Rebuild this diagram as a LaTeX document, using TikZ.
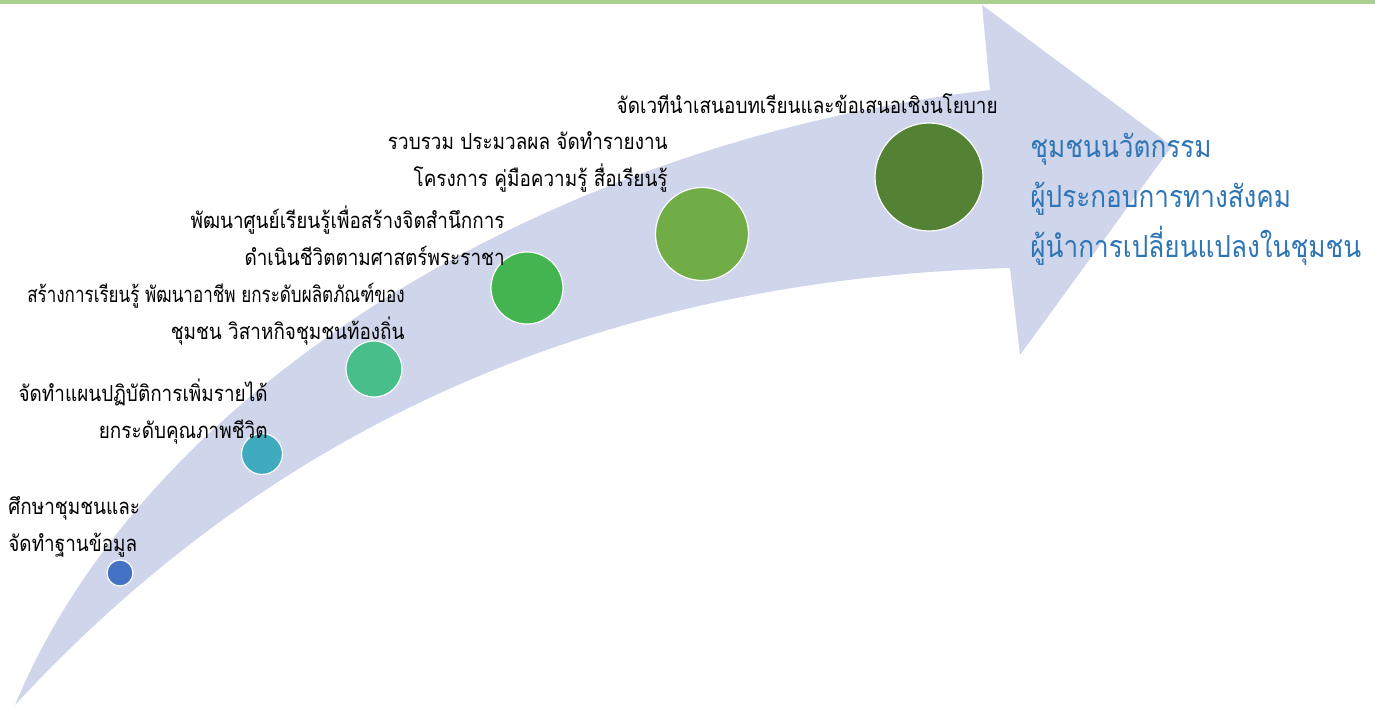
\documentclass[tikz,border=0pt]{standalone}
\usepackage{fontspec}
\usepackage{xcolor}
\newfontfamily\thaifont[Script=Thai, FakeStretch=0.86]{Loma}
\definecolor{bandBlue}{RGB}{207,213,234}
\definecolor{topGreen}{RGB}{169,208,142}
\definecolor{stepOne}{RGB}{68,114,196}
\definecolor{stepTwo}{RGB}{64,170,190}
\definecolor{stepThree}{RGB}{72,190,138}
\definecolor{stepFour}{RGB}{68,180,80}
\definecolor{stepFive}{RGB}{112,173,71}
\definecolor{stepSix}{RGB}{84,130,53}
\definecolor{goalBlue}{RGB}{46,117,182}
\tikzset{
  dot/.style={circle, draw=white, line width=0.6pt, inner sep=0pt},
  steptext/.style={font=\thaifont\fontsize{11}{18.5}\selectfont, inner sep=0pt},
  goaltext/.style={font=\thaifont\fontsize{15.2}{25}\selectfont, text=goalBlue, inner sep=0pt},
}

\begin{document}
\begin{tikzpicture}[x=0.5pt, y=-0.5pt]
	\useasboundingbox (0,0) rectangle (1375,710);
	\fill[topGreen] (0,0) rectangle (1375,4);
	% curved arrow
	\fill[bandBlue] (15,705) .. controls (150,380) and (560,140) .. (990,90)
		-- (982,5) -- (1172,146) -- (1020,355) -- (1010,268)
		.. controls (580,280) and (260,440) .. (15,705) -- cycle;
	% steps
	\node[dot, fill=stepOne, minimum size=13pt] (s1) at (120,573) {};
	\node[dot, fill=stepTwo, minimum size=20.5pt] (s2) at (262,454) {};
	\node[dot, fill=stepThree, minimum size=28pt] (s3) at (374,369) {};
	\node[dot, fill=stepFour, minimum size=36pt] (s4) at (527,288) {};
	\node[dot, fill=stepFive, minimum size=46.5pt] (s5) at (702,234) {};
	\node[dot, fill=stepSix, minimum size=54pt] (s6) at (929,177) {};
	\node[steptext, anchor=west, align=left] (t1) at (8,527) {ศึกษาชุมชนและ\\จัดทำฐานข้อมูล};
	\node[steptext, anchor=east, align=right] (t2) at (268,412) {จัดทำแผนปฏิบัติการเพิ่มรายได้\\ยกระดับคุณภาพชีวิต};
	\node[steptext, anchor=east, align=right] (t3) at (405,314) {\scalebox{0.9}[1]{สร้างการเรียนรู้ พัฒนาอาชีพ ยกระดับผลิตภัณฑ์ของ}\\ชุมชน วิสาหกิจชุมชนท้องถิ่น};
	\node[steptext, anchor=east, align=right] (t4) at (505,236) {พัฒนาศูนย์เรียนรู้เพื่อสร้างจิตสำนึกการ\\ดำเนินชีวิตตามศาสตร์พระราชา};
	\node[steptext, anchor=east, align=right] (t5) at (668,162) {รวบรวม ประมวลผล จัดทำรายงาน\\โครงการ คู่มือความรู้ สื่อเรียนรู้};
	\node[steptext, anchor=east] (t6) at (998,104) {จัดเวทีนำเสนอบทเรียนและข้อเสนอเชิงนโยบาย};
	% outcome
	\node[goaltext, anchor=west, align=left] (goal) at (1030,199) {ชุมชนนวัตกรรม\\ผู้ประกอบการทางสังคม\\ผู้นำการเปลี่ยนแปลงในชุมชน};
\end{tikzpicture}
\end{document}
